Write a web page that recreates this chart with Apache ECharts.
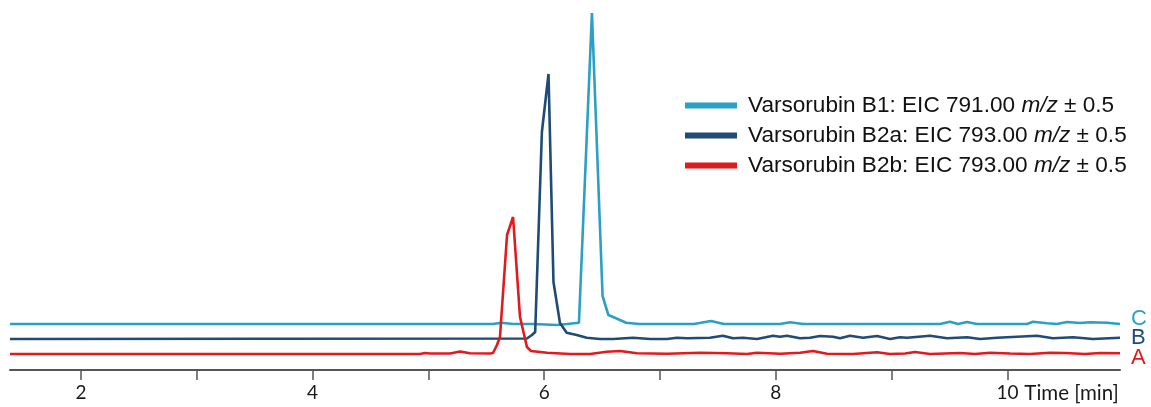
<!DOCTYPE html>
<html>
<head>
<meta charset="utf-8">
<script src="https://cdn.jsdelivr.net/npm/echarts@6/dist/echarts.min.js"></script>
<style>
html,body{margin:0;padding:0;background:#fff;}
#chart{width:1151px;height:407px;}
</style>
</head>
<body>
<div id="chart"></div>
<script>
// ---- Data (retention time in min, relative intensity above each trace's baseline) ----
const seriesNames = [
  'Varsorubin B1: EIC 791.00 m/z ± 0.5',
  'Varsorubin B2a: EIC 793.00 m/z ± 0.5',
  'Varsorubin B2b: EIC 793.00 m/z ± 0.5'
];
const traceLabels = ['C', 'B', 'A'];
const traceOffsets = [46, 31, 16]; // vertical offset of each stacked trace (intensity units)

const timeC = [1.387, 5.558, 5.632, 5.731, 5.904, 6.111, 6.197, 6.300, 6.412, 6.504, 6.554, 6.620, 6.707, 6.822,
  7.293, 7.440, 7.552, 8.036, 8.123, 8.235, 9.418, 9.504, 9.573, 9.651, 9.737, 10.169, 10.221, 10.342, 10.428,
  10.515, 10.627, 10.713, 10.860, 10.972];
const intC = [0, 0, 1.3, 0, 0, -1, 0, 1.3, 311, 28, 9, 5.7, 1.3, 0,
  0, 3, 0, 0, 1.7, 0, 0, 2.3, 0, 2, 0, 0, 2.3, 0.7, 0,
  2, 1, 1.7, 1.3, 0];

const timeB = [1.387, 5.851, 5.894, 5.922, 5.980, 6.037, 6.080, 6.136, 6.194, 6.281, 6.367, 6.483, 6.595, 6.767,
  6.914, 7.060, 7.147, 7.233, 7.431, 7.543, 7.630, 7.716, 7.838, 7.976, 8.036, 8.097, 8.209, 8.295, 8.382,
  8.494, 8.554, 8.641, 8.753, 8.874, 8.986, 9.073, 9.133, 9.332, 9.479, 9.652, 9.764, 9.911, 10.083, 10.255,
  10.393, 10.566, 10.739, 10.972];
const intB = [0, 0.5, 4, 7, 207, 265, 57, 16, 6.3, 4, 1.3, 0, 0, 1.3,
  0, 0, 1.3, 0.7, 1.3, 3.3, 0.7, 1.3, 0, 3.3, 2.3, 3.3, 0.7, 1.3, 3,
  2.3, 0.7, 3.3, 1.3, 3, 0, 1.7, 1.3, 3.3, 0.7, 1.7, 0, 1.3, 2.3, 3.3,
  0.7, 1.7, 0, 1.3];

const timeA = [1.387, 4.927, 4.971, 5.014, 5.187, 5.273, 5.359, 5.532, 5.558, 5.592, 5.618, 5.679, 5.731, 5.791,
  5.851, 5.886, 6.024, 6.223, 6.396, 6.540, 6.655, 6.801, 7.060, 7.345, 7.579, 7.751, 7.838, 8.036, 8.209,
  8.321, 8.442, 8.667, 8.874, 8.986, 9.116, 9.202, 9.332, 9.591, 9.720, 9.850, 10.022, 10.195, 10.368, 10.497,
  10.670, 10.800, 10.972];
const intA = [0, 0, 1, 0.5, 0.5, 2.5, 0.7, 0.5, 1, 9, 17, 119, 137, 37,
  7, 3, 1.3, 0, 0, 2.3, 3, 0.7, 0.3, 1.3, 0.7, 0, 1.3, 0.3, 1.3,
  3, 0.3, 0, 1.7, 0, 0.5, 2, 0, 1, 0, 1.3, 0.5, 0, 1.2, 1,
  0, 1, 0.7];

const xLabelValues = [2, 4, 6, 8, 10];
const xTickValues = [2, 3, 4, 5, 6, 7, 8, 9, 10];
const xRange = [1.387, 10.972];
const xName = 'Time [min]';

// ---- Styles ----
const colors = ['#2b9fc4', '#1f4b75', '#e01b1f'];
const labelOffsets = [[0, -5], [0, 0], [0, 5]];
const legendFont = 'Liberation Sans, Arial, sans-serif';
const axisFont = 'Lato, sans-serif';

const times = [timeC, timeB, timeA];
const ints = [intC, intB, intA];

const series = seriesNames.map((name, i) => ({
  name: name,
  type: 'line',
  data: times[i].map((t, k) => [t, ints[i][k] + traceOffsets[i]]),
  symbol: 'none',
  smooth: false,
  lineStyle: { color: colors[i], width: 2.6 },
  itemStyle: { color: colors[i] },
  z: 2 + i,
  animation: false,
  endLabel: {
    show: true,
    formatter: traceLabels[i],
    color: colors[i],
    fontFamily: legendFont,
    fontSize: 22,
    distance: 11,
    offset: labelOffsets[i]
  }
}));

const chart = echarts.init(document.getElementById('chart'));
chart.setOption({
  animation: false,
  backgroundColor: '#ffffff',
  textStyle: { fontFamily: legendFont },
  grid: { left: 10, right: 31, top: 0, bottom: 37, containLabel: false },
  legend: {
    show: true,
    orient: 'vertical',
    left: 685,
    top: 94,
    padding: 0,
    icon: 'rect',
    itemWidth: 52,
    itemHeight: 6,
    itemGap: 7,
    data: seriesNames,
    formatter: n => n.replace('m/z', '{i|m/z}'),
    textStyle: {
      fontFamily: legendFont,
      fontSize: 22.6,
      color: '#111111',
      padding: [0, 0, 0, 6],
      rich: {
        i: { fontFamily: legendFont, fontSize: 22.6, fontStyle: 'italic', color: '#111111' }
      }
    }
  },
  xAxis: {
    type: 'value',
    min: xRange[0],
    max: xRange[1],
    name: xName,
    nameLocation: 'end',
    nameGap: -2,
    nameTextStyle: {
      fontFamily: axisFont, fontSize: 20.5, color: '#1a1a1a',
      align: 'right', verticalAlign: 'top', padding: [13, 0, 0, 0]
    },
    axisLine: { show: true, lineStyle: { color: '#555555', width: 2 } },
    axisTick: { show: true, length: 10, lineStyle: { color: '#555555', width: 1.5 }, customValues: xTickValues },
    axisLabel: { show: true, margin: 13, fontFamily: axisFont, fontSize: 19, color: '#1a1a1a', customValues: xLabelValues },
    splitLine: { show: false }
  },
  yAxis: {
    type: 'value',
    min: 0,
    max: 370,
    show: false,
    splitLine: { show: false }
  },
  series: series
});
</script>
</body>
</html>
